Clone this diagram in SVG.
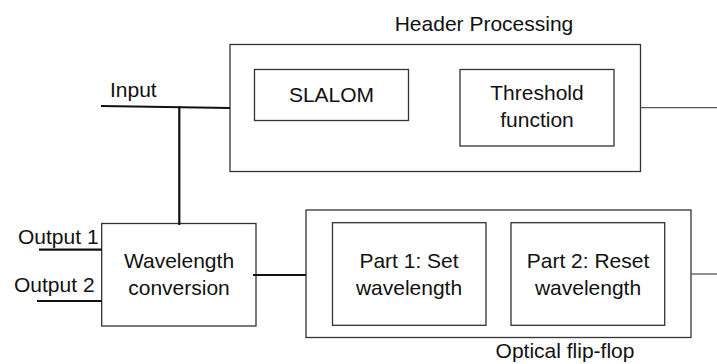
<svg xmlns="http://www.w3.org/2000/svg" width="717" height="364" viewBox="0 0 717 364">
<style>
rect.box { fill: #fff; stroke: #333; stroke-width: 1.3; }
text { font-family: "Liberation Sans", Arial, sans-serif; font-size: 21px; fill: #111; }
.c { text-anchor: middle; }
.thick { stroke: #111; stroke-width: 2.2; fill: none; }
.thin { stroke: #555; stroke-width: 1.3; fill: none; }
</style>
<rect width="717" height="364" fill="#fff"/>
<g id="header-processing">
  <rect class="box" x="230" y="44.5" width="410.5" height="127"/>
  <text class="c" x="484" y="31">Header Processing</text>
</g>
<g id="slalom">
  <rect class="box" x="254.5" y="69.5" width="154" height="51"/>
  <text class="c" x="331.5" y="102">SLALOM</text>
</g>
<g id="threshold">
  <rect class="box" x="460" y="69.5" width="154" height="76.5"/>
  <text class="c" x="537" y="100">Threshold</text>
  <text class="c" x="537" y="127">function</text>
</g>
<g id="wavelength-conversion">
  <rect class="box" x="101.7" y="223.5" width="154.3" height="102.5"/>
  <text class="c" x="179" y="268">Wavelength</text>
  <text class="c" x="179" y="295">conversion</text>
</g>
<g id="optical-flip-flop">
  <rect class="box" x="306" y="210" width="385" height="127.5"/>
  <text class="c" x="565" y="358">Optical flip-flop</text>
</g>
<g id="part1">
  <rect class="box" x="332.5" y="222.7" width="153.5" height="102.6"/>
  <text class="c" x="409" y="268">Part 1: Set</text>
  <text class="c" x="409" y="295">wavelength</text>
</g>
<g id="part2">
  <rect class="box" x="511" y="222.7" width="153.7" height="102.6"/>
  <text class="c" x="588" y="268">Part 2: Reset</text>
  <text class="c" x="588" y="295">wavelength</text>
</g>
<g id="labels">
  <text x="110" y="97">Input</text>
  <text x="18" y="244">Output 1</text>
  <text x="14" y="291.5">Output 2</text>
</g>
<g id="connectors">
  <path class="thick" d="M101 106 L230 108"/>
  <path class="thick" d="M179.3 106.5 L179.3 225"/>
  <path class="thick" d="M39 249.7 L101.7 249.7"/>
  <path class="thick" d="M37 301 L101.7 301"/>
  <path class="thick" d="M253 275 L306 275"/>
  <path class="thin" d="M640.5 107.7 L717 107.7"/>
  <path class="thin" d="M691 274 L717 274"/>
</g>
</svg>
